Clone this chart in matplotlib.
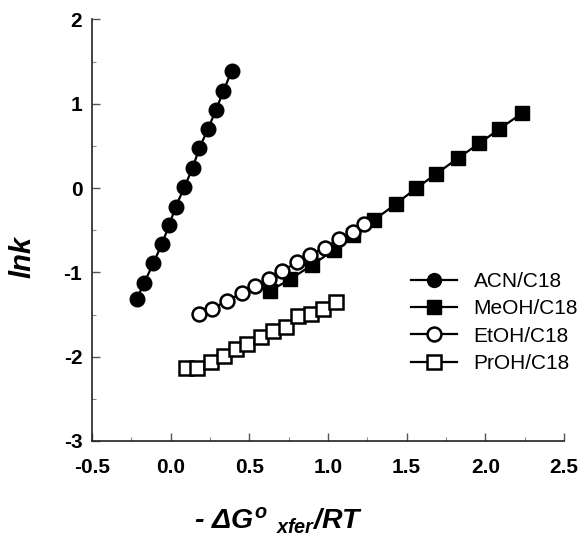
import matplotlib
matplotlib.use("Agg")
import matplotlib.pyplot as plt
from matplotlib.ticker import MultipleLocator

plt.rcParams['font.family'] = ['Liberation Sans', 'DejaVu Sans']
plt.rcParams['mathtext.fontset'] = 'custom'
plt.rcParams['mathtext.it'] = 'Liberation Sans:italic:bold'
plt.rcParams['mathtext.rm'] = 'Liberation Sans:italic:bold'

# Data
acn_x = [0.388, 0.335, 0.288, 0.236, 0.182, 0.140, 0.087, 0.032, -0.010, -0.057, -0.110, -0.168, -0.214]
acn_y = [1.389, 1.152, 0.926, 0.698, 0.472, 0.242, 0.009, -0.221, -0.442, -0.667, -0.892, -1.122, -1.312]

meoh_x = [2.232, 2.089, 1.962, 1.825, 1.687, 1.560, 1.431, 1.293, 1.161, 1.037, 0.899, 0.759, 0.632]
meoh_y = [0.887, 0.701, 0.531, 0.354, 0.167, -0.002, -0.189, -0.378, -0.556, -0.734, -0.912, -1.082, -1.217]

etoh_x = [0.180, 0.265, 0.356, 0.452, 0.536, 0.625, 0.710, 0.801, 0.886, 0.978, 1.072, 1.157, 1.231]
etoh_y = [-1.497, -1.434, -1.336, -1.248, -1.158, -1.078, -0.983, -0.880, -0.794, -0.705, -0.607, -0.517, -0.429]

proh_x = [0.096, 0.169, 0.255, 0.339, 0.414, 0.487, 0.572, 0.653, 0.731, 0.811, 0.890, 0.970, 1.049]
proh_y = [-2.138, -2.138, -2.059, -1.992, -1.912, -1.849, -1.763, -1.692, -1.651, -1.514, -1.497, -1.434, -1.348]

labels = ["ACN/C18", "MeOH/C18", "EtOH/C18", "PrOH/C18"]
x_ticks = [-0.5, 0.0, 0.5, 1.0, 1.5, 2.0, 2.5]
y_ticks = [-3, -2, -1, 0, 1, 2]

fig = plt.figure(figsize=(5.84, 5.47), dpi=100)
ax = fig.add_axes([92/584, 106/547, (564-92)/584, (441-19.5)/547])

lw = 1.6
h1, = ax.plot(acn_x, acn_y, '-', color='black', lw=lw, marker='o', ms=10.5,
              mfc='black', mec='black', label=labels[0], zorder=3)
h2, = ax.plot(meoh_x, meoh_y, '-', color='black', lw=lw, marker='s', ms=9.5,
              mfc='black', mec='black', label=labels[1], zorder=3)
h3, = ax.plot(etoh_x, etoh_y, '-', color='black', lw=lw, marker='o', ms=10,
              mfc='white', mec='black', mew=1.8, label=labels[2], zorder=4)
h4, = ax.plot(proh_x, proh_y, '-', color='black', lw=lw, marker='s', ms=10,
              mfc='white', mec='black', mew=1.8, label=labels[3], zorder=3)

ax.set_xlim(-0.5, 2.5)
ax.set_ylim(-3, 2)
ax.set_xticks(x_ticks)
ax.set_xticklabels([f"{v:.1f}" for v in x_ticks])
ax.set_yticks(y_ticks)
ax.set_yticklabels([str(v) for v in y_ticks])
ax.xaxis.set_minor_locator(MultipleLocator(0.25))
ax.yaxis.set_minor_locator(MultipleLocator(0.5))

for s in ['top', 'right']:
    ax.spines[s].set_visible(False)
for s in ['left', 'bottom']:
    ax.spines[s].set_linewidth(1.2)
    ax.spines[s].set_color('#222222')

ax.tick_params(axis='both', which='major', direction='in', length=6, width=1, color='#555555',
               labelsize=15)
ax.tick_params(axis='both', which='minor', direction='in', length=3, width=0.8, color='#888888')
ax.tick_params(axis='x', which='major', pad=12)
ax.tick_params(axis='y', which='major', pad=7)
for t in ax.get_xticklabels() + ax.get_yticklabels():
    t.set_fontweight('bold')

fig.text(22.5/584, 1 - 257/547, 'lnk', rotation=90, fontsize=21, fontweight='bold',
         fontstyle='italic', ha='center', va='center')
fig.text(279/584, 1 - 521/547, r'- $\Delta G^{o}\ {}_{xfer}$/RT', fontsize=20.5,
         fontweight='bold', fontstyle='italic', ha='center', va='center')

leg = fig.legend(handles=[h1, h2, h3, h4], loc='upper left',
                 bbox_to_anchor=(411/584, 1 - 272/547), frameon=False,
                 fontsize=15, handlelength=2.2, handletextpad=0.8,
                 labelspacing=0.4, borderpad=0, borderaxespad=0)
for lh in leg.legend_handles:
    lh.set_markersize(10)

fig.savefig('out.png', dpi=100)
